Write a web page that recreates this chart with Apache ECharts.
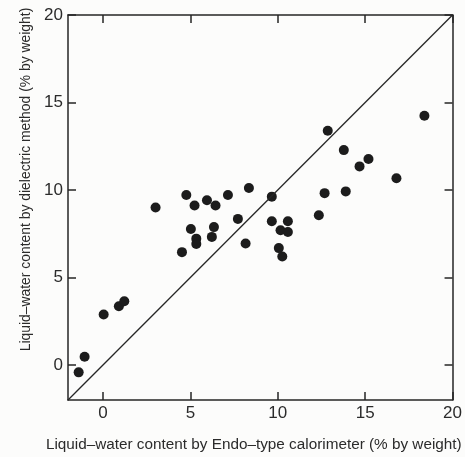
<!DOCTYPE html>
<html>
<head>
<meta charset="utf-8">
<script src="https://cdn.jsdelivr.net/npm/echarts@6/dist/echarts.min.js"></script>
<style>
html, body { margin: 0; padding: 0; background: #fcfcfb; }
#chart { width: 465px; height: 457px; }
</style>
</head>
<body>
<div id="chart"></div>
<script>
// calorimeter value (x) vs dielectric value (y), % by weight
var calorimeter = [-1.39, -1.05, 0.04, 0.91, 1.22, 3.01, 4.77, 5.24, 5.95, 6.44, 7.15, 8.35,
	9.66, 12.68, 7.72, 5.03, 6.35, 5.34, 5.34, 6.23, 8.16, 4.52, 9.66, 10.58, 10.16, 10.58,
	12.35, 10.06, 10.26, 18.39, 12.86, 13.78, 15.19, 14.68, 16.79, 13.89];
var dielectric = [-0.42, 0.47, 2.89, 3.36, 3.64, 9.0, 9.71, 9.11, 9.41, 9.11, 9.71, 10.11,
	9.62, 9.82, 8.35, 7.77, 7.88, 7.22, 6.92, 7.32, 6.94, 6.45, 8.21, 8.21, 7.70, 7.60,
	8.56, 6.68, 6.20, 14.24, 13.39, 12.28, 11.77, 11.35, 10.67, 9.92];
var tickValues = [0, 5, 10, 15, 20];
var diagonal = [[-2, -2], [20, 20]];

var points = calorimeter.map(function (x, i) { return [x, dielectric[i]]; });

var chart = echarts.init(document.getElementById('chart'));
var font = 'Liberation Sans, Arial, sans-serif';
var axisLineStyle = { color: '#262626', width: 1.5 };

function makeAxis(pos, withLabels, name, nameStyle, gap) {
	return {
		type: 'value',
		position: pos,
		min: -2,
		max: 20,
		name: name || '',
		nameLocation: 'middle',
		nameGap: gap || 0,
		nameTextStyle: nameStyle || {},
		axisLine: { show: true, onZero: false, lineStyle: axisLineStyle },
		axisTick: { show: true, inside: true, length: 8, customValues: tickValues, lineStyle: axisLineStyle },
		axisLabel: {
			show: withLabels,
			customValues: tickValues,
			fontFamily: font,
			fontSize: 17,
			color: '#2b2b2b',
			margin: 5
		},
		splitLine: { show: false }
	};
}

var option = {
	animation: false,
	backgroundColor: '#fcfcfb',
	grid: { left: 68, right: 12, top: 15, bottom: 56 },
	xAxis: [
		makeAxis('bottom', true, 'Liquid–water content by Endo–type calorimeter (% by weight)',
			{ fontFamily: font, fontSize: 15.3, color: '#2b2b2b', padding: [0, 13, 0, 0] }, 37),
		makeAxis('top', false)
	],
	yAxis: [
		makeAxis('left', true, 'Liquid–water content by dielectric method (% by weight)',
			{ fontFamily: font, fontSize: 13.9, color: '#2b2b2b', padding: [0, 0, 0, 56] }, 34),
		makeAxis('right', false)
	],
	series: [
		{
			type: 'line',
			data: diagonal,
			symbol: 'none',
			lineStyle: { color: '#262626', width: 1.3 },
			silent: true
		},
		{
			type: 'scatter',
			data: points,
			symbolSize: 10,
			itemStyle: { color: '#1c1c1c', opacity: 1 }
		}
	]
};
chart.setOption(option);
</script>
</body>
</html>
